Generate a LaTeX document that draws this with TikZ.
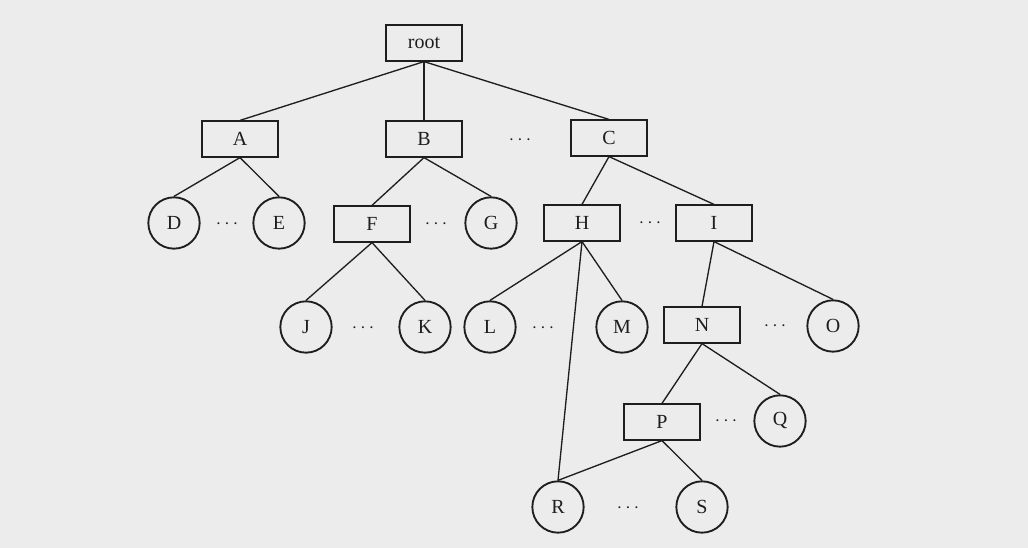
\documentclass[tikz,border=0pt]{standalone}
\usepackage{fontspec}
\setmainfont{Liberation Serif}
\definecolor{bgcol}{RGB}{236,236,236}
\definecolor{ink}{RGB}{30,30,30}
\begin{document}
\begin{tikzpicture}[x=0.75pt,y=-0.75pt,
  every node/.style={font=\fontsize{15}{17}\selectfont, text=ink},
  boxnode/.style={draw=ink, line width=1.4pt, minimum width=57.5pt, minimum height=26.5pt, inner sep=0pt},
  circnode/.style={draw=ink, line width=1.4pt, circle, minimum size=38.5pt, inner sep=0pt},
  dotsnode/.style={inner sep=0pt},
  edge/.style={draw=ink, line width=1pt}]
\fill[bgcol] (0,0) rectangle (1028,548);
\useasboundingbox (0,0) rectangle (1028,548);
% nodes
\node[boxnode] (root) at (424,43) {root};
\node[boxnode] (A) at (240,139) {A};
\node[boxnode] (B) at (424,139) {B};
\node[boxnode] (C) at (609,138) {C};
\node[dotsnode] (dBC) at (520,140) {$\cdots$};
\node[circnode] (D) at (174,223) {D};
\node[circnode] (E) at (279,223) {E};
\node[dotsnode] (dDE) at (227,224) {$\cdots$};
\node[boxnode] (F) at (372,224) {F};
\node[circnode] (G) at (491,223) {G};
\node[dotsnode] (dFG) at (436,224) {$\cdots$};
\node[boxnode] (H) at (582,223) {H};
\node[boxnode] (I) at (714,223) {I};
\node[dotsnode] (dHI) at (650,223) {$\cdots$};
\node[circnode] (J) at (306,327) {J};
\node[circnode] (K) at (425,327) {K};
\node[dotsnode] (dJK) at (363,328) {$\cdots$};
\node[circnode] (L) at (490,327) {L};
\node[circnode] (M) at (622,327) {M};
\node[dotsnode] (dLM) at (543,328) {$\cdots$};
\node[boxnode] (N) at (702,325) {N};
\node[circnode] (O) at (833,326) {O};
\node[dotsnode] (dNO) at (775,326) {$\cdots$};
\node[boxnode] (P) at (662,422) {P};
\node[circnode] (Q) at (780,421) {Q};
\node[dotsnode] (dPQ) at (726,421) {$\cdots$};
\node[circnode] (R) at (558,507) {R};
\node[circnode] (S) at (702,507) {S};
\node[dotsnode] (dRS) at (628,508) {$\cdots$};
% edges
\draw[edge] (root.south) -- (A.north);
\draw[edge] (root.south) -- (B.north);
\draw[edge] (root.south) -- (C.north);
\draw[edge] (A.south) -- (D.north);
\draw[edge] (A.south) -- (E.north);
\draw[edge] (B.south) -- (F.north);
\draw[edge] (B.south) -- (G.north);
\draw[edge] (C.south) -- (H.north);
\draw[edge] (C.south) -- (I.north);
\draw[edge] (F.south) -- (J.north);
\draw[edge] (F.south) -- (K.north);
\draw[edge] (H.south) -- (L.north);
\draw[edge] (H.south) -- (M.north);
\draw[edge] (H.south) -- (R.north);
\draw[edge] (I.south) -- (N.north);
\draw[edge] (I.south) -- (O.north);
\draw[edge] (N.south) -- (P.north);
\draw[edge] (N.south) -- (Q.north);
\draw[edge] (P.south) -- (R.north);
\draw[edge] (P.south) -- (S.north);
\end{tikzpicture}
\end{document}
